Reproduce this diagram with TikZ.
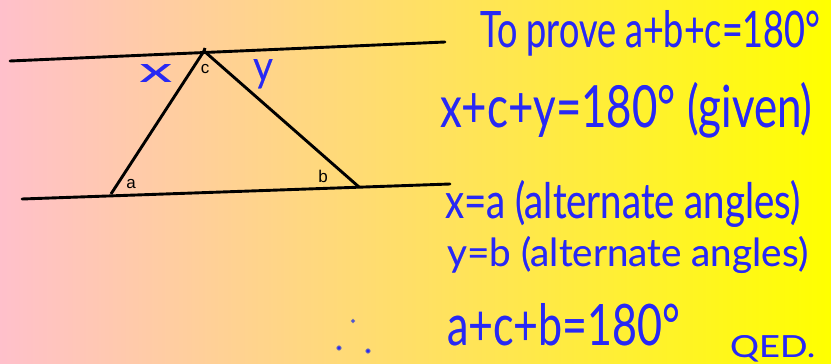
\documentclass[tikz,border=0pt]{standalone}
\usepackage{fontspec}
\setmainfont{Liberation Sans}
\newfontfamily\handfont{Lato}
\usepackage{graphicx}
\usepackage[outline]{contour}
\contourlength{0.09em}
\definecolor{pen}{RGB}{40,40,245}
\definecolor{halo}{RGB}{125,125,175}
\definecolor{bgL}{RGB}{255,192,203}
\definecolor{bgR}{RGB}{255,255,0}
\tikzset{
  ruled/.style={line width=2.9pt, black, line cap=round},
  tri/.style={line width=2.9pt, black, line join=miter},
  lbl/.style={font=\fontsize{17}{19}\selectfont, inner sep=0pt, text=black},
  hand/.style={inner sep=0pt, anchor=base west, text=pen, font=\handfont},
}
\newcommand{\fitline}[3]{\resizebox{#1pt}{#2pt}{\contour{halo}{#3}}}
\begin{document}
\begin{tikzpicture}[x=1pt,y=-1pt]
\useasboundingbox (0,0) rectangle (831,364);
\shade[left color=bgL, right color=bgR] (0,0) rectangle (831,364);
% parallel lines
\coordinate (t1) at (10,61);
\coordinate (t2) at (445,42);
\coordinate (b1) at (22,199);
\coordinate (b2) at (450,184);
\draw[ruled] (t1) -- (t2);
\draw[ruled] (b1) -- (b2);
% triangle
\coordinate (C) at (204,51);
\coordinate (A) at (111,194);
\coordinate (B) at (359,187);
\draw[tri] (A) -- (C) -- (B);
\draw[line width=2.9pt] (C) -- ++(1,-3);
% labels
\node[lbl] (la) at (131,184) {a};
\node[lbl] (lb) at (323,176) {b};
\node[lbl] (lc) at (205,69) {c};
\node[hand,anchor=base] (lx) at (156,82) {\fitline{33}{18}{x}};
\node[hand,anchor=base] (ly) at (263,81) {\fitline{20}{22}{y}};
% proof text
\node[hand] (p1) at (480,47) {\fitline{340}{37}{To prove a+b+c=180°}};
\node[hand] (p2) at (440,127) {\fitline{372}{45}{x+c+y=180° (given)}};
\node[hand] (p3) at (445,218) {\fitline{355}{38}{x=a (alternate angles)}};
\node[hand] (p4) at (447,266) {\fitline{361}{30}{y=b (alternate angles)}};
\node[hand] (p5) at (447,345) {\fitline{233}{42}{a+c+b=180°}};
\node[hand] (p6) at (730,357) {\fitline{85}{22}{QED.}};
% therefore dots
\fill[pen, draw=halo, line width=0.8pt] (353,321) circle (1.8);
\fill[pen, draw=halo, line width=0.8pt] (339,348) circle (2.2);
\fill[pen, draw=halo, line width=0.8pt] (368,351) circle (2.2);
\end{tikzpicture}
\end{document}
